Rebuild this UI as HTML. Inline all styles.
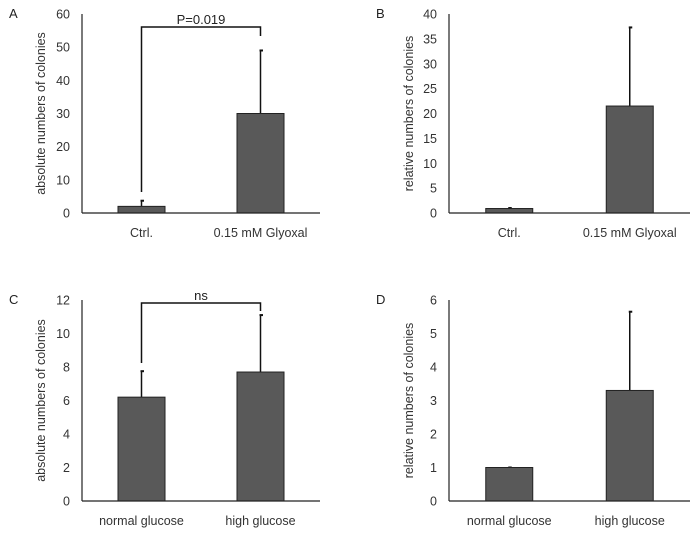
<!DOCTYPE html>
<html><head><meta charset="utf-8"><style>
body{margin:0;background:#fff;}
svg{display:block;font-family:"Liberation Sans",sans-serif;}
</style></head><body>
<svg id="fig" width="700" height="534" viewBox="0 0 700 534"></svg>
<script>
const panelLabels = ["A","B","C","D"];
const categoriesTop = ["Ctrl.","0.15 mM Glyoxal"];
const categoriesBottom = ["normal glucose","high glucose"];
const valuesA = [2, 30];
const errorsA = [3.7, 49];
const valuesB = [0.9, 21.5];
const errorsB = [1.0, 37.3];
const valuesC = [6.2, 7.7];
const errorsC = [7.75, 11.1];
const valuesD = [1.0, 3.3];
const errorsD = [1.0, 5.65];
const ticksA = [0,10,20,30,40,50,60];
const ticksB = [0,5,10,15,20,25,30,35,40];
const ticksC = [0,2,4,6,8,10,12];
const ticksD = [0,1,2,3,4,5,6];
const titleAbs = "absolute numbers of colonies";
const titleRel = "relative numbers of colonies";

const NS="http://www.w3.org/2000/svg";
const svg=document.getElementById('fig');
function mk(tag,attrs,parent){const e=document.createElementNS(NS,tag);for(const k in attrs)e.setAttribute(k,attrs[k]);(parent||svg).appendChild(e);return e;}

const panels=[
 {id:'a',lab:panelLabels[0],ox:82,top:14,zero:213,right:320,vals:valuesA,errs:errorsA,ticks:ticksA,cats:categoriesTop,title:titleAbs,lx:9,tx:45,bracket:{y:27,text:"P=0.019",ly:192,ry:36}},
 {id:'b',lab:panelLabels[1],ox:449,top:14,zero:213,right:690,vals:valuesB,errs:errorsB,ticks:ticksB,cats:categoriesTop,title:titleRel,lx:376,tx:413},
 {id:'c',lab:panelLabels[2],ox:82,top:300,zero:501,right:320,vals:valuesC,errs:errorsC,ticks:ticksC,cats:categoriesBottom,title:titleAbs,lx:9,tx:45,bracket:{y:303,text:"ns",ly:363,ry:311}},
 {id:'d',lab:panelLabels[3],ox:449,top:300,zero:501,right:690,vals:valuesD,errs:errorsD,ticks:ticksD,cats:categoriesBottom,title:titleRel,lx:376,tx:413}
];

panels.forEach(p=>{
  const g=mk('g',{});
  
  
  const max=p.ticks[p.ticks.length-1];
  const y=v=>p.zero-(v/max)*(p.zero-p.top);
  const w=p.right-p.ox;
  const x=i=>p.ox+w*(0.25+0.5*i);
  const bw=47;
  const L=mk('text',{x:p.lx,y:p.top+4,'font-size':13,fill:'#222'},g);L.textContent=p.lab;
  
  
  p.ticks.forEach(t=>{
    const tt=mk('text',{x:p.ox-12,y:y(t)+4.5,'font-size':12.5,'text-anchor':'end',fill:'#333'},g);tt.textContent=t;
    
    
  });
  const ty=(p.top+p.zero)/2;
  const tl=mk('text',{x:p.tx,y:ty,'font-size':12.5,'text-anchor':'middle',fill:'#333',transform:`rotate(-90 ${p.tx} ${ty})`},g);tl.textContent=p.title;
  
  
  p.vals.forEach((v,i)=>{
    const cx=x(i);
    const e=mk('line',{x1:cx,x2:cx,y1:y(v),y2:y(p.errs[i]),stroke:'#111','stroke-width':1.5},g);
    
    
    mk('line',{x1:cx-1,x2:cx+2.5,y1:y(p.errs[i]),y2:y(p.errs[i]),stroke:'#111','stroke-width':2},g);
    const r=mk('rect',{x:cx-bw/2,y:y(v),width:bw,height:p.zero-y(v),fill:'#595959',stroke:'#222','stroke-width':1},g);
    
    
    const c=mk('text',{x:cx,y:p.zero+24,'font-size':12.5,'text-anchor':'middle',fill:'#333'},g);c.textContent=p.cats[i];
    
    
  });
  const ya=mk('line',{x1:p.ox,x2:p.ox,y1:p.top,y2:p.zero,stroke:'#222','stroke-width':1.2},g);
  
  
  const xa=mk('line',{x1:p.ox,x2:p.right,y1:p.zero,y2:p.zero,stroke:'#222','stroke-width':1.2},g);
  
  
  if(p.bracket){
    const b=p.bracket,x0=x(0),x1=x(1);
    const pl=mk('polyline',{points:`${x0},${b.ly} ${x0},${b.y} ${x1},${b.y} ${x1},${b.ry}`,fill:'none',stroke:'#111','stroke-width':1.5},g);
    
    
    const st=mk('text',{x:(x0+x1)/2,y:b.y-3,'font-size':13,'text-anchor':'middle',fill:'#222'},g);st.textContent=b.text;
    
    
  }
});
</script>
</body></html>
